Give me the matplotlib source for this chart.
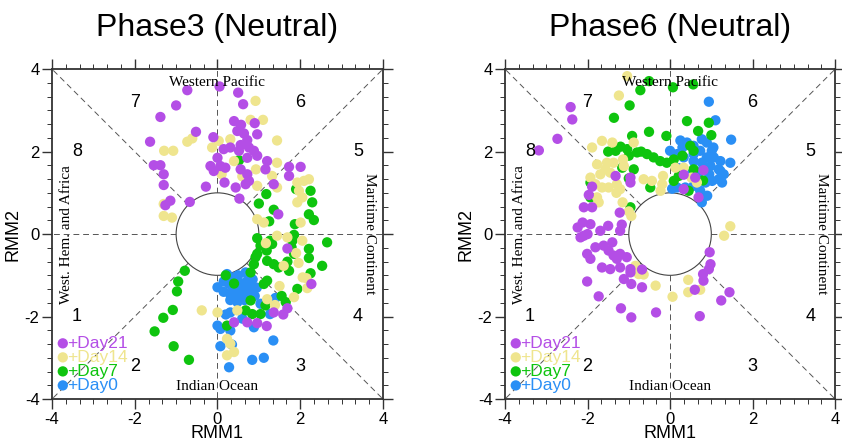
# MJO phase-space composite, Phase3 and Phase6 (neutral)

import numpy as np
import matplotlib.pyplot as plt
from matplotlib.patches import Circle

plt.rcParams['axes.unicode_minus'] = False

# ---- data (RMM1, RMM2) ----
p3_day21 = [(-0.73,3.49),(0.05,3.58),(0.50,3.43),(0.62,3.15),(-1.0,3.12),(-1.38,2.84),(-0.52,2.48),
            (-1.63,2.24),(-0.10,2.35),(0.40,2.74),(0.57,2.65),(0.90,2.69),(0.96,2.42),(0.48,2.50),
            (0.64,2.44),(0.72,2.28),(0.56,2.16),(0.76,2.10),(0.88,2.02),(0.96,1.90),(0.72,1.85),
            (0.52,2.02),(0.31,2.10),(0.15,2.06),(0.0,1.85),(0.07,1.65),(-0.17,1.65),(-0.09,1.53),
            (0.19,1.61),(0.56,1.57),(0.72,1.45),(0.76,1.29),(0.68,1.21),(1.20,1.77),(1.16,1.57),
            (1.36,1.21),(1.73,1.63),(2.01,1.63),(1.73,1.41),(-1.54,1.67),(-1.38,1.67),(-1.30,1.45),
            (-1.30,1.19),(-1.14,0.81),(-1.26,0.70),(-0.67,0.78),(-0.28,1.15),(0.17,1.25),(0.44,1.13),
            (0.53,0.86),(1.47,0.48),(1.69,-0.35),(2.27,-1.21),(1.69,-1.80),(1.59,-1.95),(1.36,-1.90),
            (0.96,-2.16),(1.19,-2.23),(0.72,-2.14),(0.40,-2.14)]
p3_day14 = [(0.92,3.23),(1.10,2.77),(1.44,2.27),(-0.73,2.24),(-0.61,2.32),(-1.29,2.02),(-1.07,2.02),
            (-0.13,2.10),(0.03,2.26),(0.31,2.30),(0.93,1.57),(1.44,1.73),(1.32,1.41),(1.44,1.13),
            (0.96,1.17),(1.93,1.25),(2.09,1.29),(2.21,1.33),(1.97,1.05),(2.05,0.89),(1.93,0.77),
            (2.01,0.28),(0.96,0.36),(1.12,0.28),(1.17,-0.22),(1.44,-0.04),(1.69,-0.08),(2.05,-0.16),
            (1.90,-0.46),(1.96,-0.70),(1.60,-0.77),(2.06,-1.05),(2.15,-1.07),(2.17,-1.31),(1.50,-1.26),
            (1.20,-1.58),(1.39,-1.72),(0.48,-1.85),(0.0,-1.90),(-0.38,-1.85),(0.23,-2.54),(0.31,-2.66),
            (0.23,-2.94),(0.40,-2.86),(-1.30,0.44),(-1.10,0.40),(-1.30,0.73),(1.85,-1.53),(0.40,1.77),
            (0.80,2.77),(0.60,1.40),(0.10,1.45)]
p3_day7 = [(0.52,1.79),(1.18,0.97),(1.0,0.74),(1.36,0.59),(1.25,0.31),(1.87,0.24),(1.90,1.09),(2.25,1.05),
           (2.29,0.77),(2.21,0.48),(2.33,0.34),(0.96,-0.10),(1.32,-0.24),(1.19,-0.40),(1.27,-0.16),
           (1.85,-0.02),(1.81,-0.16),(1.79,-0.32),(1.85,-0.48),(2.21,-0.36),(2.65,-0.20),(2.21,-0.58),
           (2.53,-0.77),(0.92,-0.56),(0.88,-0.73),(0.80,-0.93),(1.20,-0.65),(1.36,-0.73),(1.48,-0.81),
           (1.69,-0.67),(1.73,-0.89),(1.20,-1.13),(0.80,-1.61),(1.16,-1.73),(1.04,-1.94),(0.84,-1.94),
           (0.68,-1.85),(1.93,-1.33),(1.65,-1.65),(0.23,-2.22),(-0.79,-0.89),(-0.95,-1.15),(-0.98,-1.39),
           (-1.08,-1.84),(-1.31,-2.03),(-1.52,-2.36),(-1.06,-2.72),(-0.69,-3.05),(1.04,-0.28),(0.96,-0.48),
           (1.12,-1.21),(0.20,-1.0),(0.40,-1.2),(2.25,-0.95),(1.55,-1.50)]
p3_day0 = [(0.23,-0.97),(0.35,-1.05),(0.50,-1.0),(0.68,-0.93),(0.15,-1.15),(0.0,-1.29),(0.28,-1.21),
           (0.40,-1.25),(0.55,-1.20),(0.70,-1.15),(0.85,-1.10),(0.95,-1.30),(0.80,-1.30),(0.60,-1.35),
           (0.45,-1.40),(0.30,-1.45),(0.15,-1.40),(0.40,-1.55),(0.55,-1.50),(0.75,-1.45),(0.90,-1.50),
           (0.65,-1.60),(0.48,-1.65),(0.31,-1.60),(1.04,-1.69),(1.40,-1.55),(1.27,-1.94),(0.31,-1.90),
           (0.0,-2.22),(0.07,-2.30),(0.31,-2.34),(0.88,-2.26),(0.07,-2.72),(0.35,-2.68),(1.35,-2.58),
           (0.84,-3.05),(1.12,-3.0),(0.28,-3.23),(0.60,-2.05),(0.20,-1.95)]

p6_day21 = [(-2.41,3.08),(-2.37,2.78),(-2.73,2.31),(-3.18,2.03),(-1.32,1.41),(-0.96,1.37),(-0.96,1.25),
            (-1.89,1.15),(-1.97,0.95),(-2.09,0.65),(-1.89,0.65),(-1.22,0.52),(-2.24,0.16),(-2.12,0.28),
            (-2.09,-0.04),(-1.93,0.24),(-2.17,-0.08),(-2.0,0.0),(-1.69,0.08),(-1.17,0.23),(-1.21,0.08),
            (-1.81,-0.32),(-1.61,-0.28),(-1.49,-0.40),(-1.37,-0.52),(-1.21,-0.48),(-1.05,-0.56),
            (-1.29,-0.60),(-2.01,-0.48),(-1.93,-0.60),(-1.65,-0.81),(-1.45,-0.85),(-1.21,-0.81),
            (-0.96,-0.85),(-0.96,-0.93),(-0.68,-0.86),(-2.01,-1.15),(-1.73,-1.51),(-1.12,-1.09),
            (-0.94,-1.21),(-0.68,-1.29),(-1.19,-1.80),(-0.94,-2.02),(-0.34,-1.90),(0.72,-1.99),
            (0.60,-1.35),(0.81,-1.13),(0.80,-0.97),(0.94,-0.85),(0.98,-0.73),(0.96,-0.44),(1.24,-1.61),
            (1.44,-1.41),(0.33,1.44),(0.33,1.09),(0.69,0.89),(0.81,1.55),(0.61,1.37),(-1.40,-0.20),
            (-1.50,0.20)]
p6_day14 = [(-1.04,3.83),(-1.24,3.36),(-1.89,2.10),(-1.65,2.26),(-1.40,2.22),(-0.88,2.22),(-1.77,1.69),
            (-1.53,1.73),(-1.37,1.73),(-1.57,1.57),(-1.45,1.49),(-1.69,1.45),(-1.93,1.37),(-1.81,1.21),
            (-1.65,1.13),(-1.49,1.13),(-1.29,1.21),(-1.21,1.09),(-1.77,0.89),(-1.73,0.77),(-1.15,0.77),
            (-0.94,0.44),(-1.14,1.81),(-1.12,1.65),(-0.64,1.33),(-0.44,1.29),(-0.23,1.05),(-0.19,1.21),
            (-0.17,1.41),(0.13,1.61),(0.33,1.61),(0.52,1.37),(0.65,1.25),(1.31,-0.04),(1.46,0.19),
            (-0.84,-0.77),(-0.76,-0.97),(-0.64,-0.98),(-0.35,-1.25),(0.06,-1.52),(0.44,-1.11),
            (0.44,-1.41),(0.73,-1.35),(-1.30,1.00),(-1.00,0.55)]
p6_day7 = [(-0.72,3.49),(-0.51,3.71),(0.07,3.56),(0.56,3.63),(-0.98,3.12),(-1.36,2.82),(-0.51,2.48),
           (0.41,2.74),(0.94,2.70),(0.68,2.50),(1.00,2.40),(-0.09,2.38),(-0.92,2.38),(-1.20,2.12),
           (-1.32,2.02),(-1.04,2.06),(-0.80,1.98),(-0.56,1.94),(-0.40,1.86),(-0.24,1.77),(-0.08,1.73),
           (0.09,1.81),(-1.00,1.90),(-1.16,1.61),(-0.88,1.57),(-1.93,1.25),(-1.93,0.89),(-0.96,0.65),
           (-0.48,1.13),(0.49,2.14),(0.57,2.02),(0.57,1.57),(0.21,1.41),(0.45,1.05),(0.09,1.29),
           (0.30,1.90),(-0.70,2.00),(-1.50,2.00),(-1.00,1.35),(0.80,1.30)]
p6_day0 = [(0.94,3.21),(1.10,2.76),(1.48,2.29),(1.46,1.73),(0.25,2.27),(0.41,2.22),(0.57,2.14),(0.77,2.30),
           (0.89,2.22),(1.01,2.02),(0.73,2.02),(0.89,1.86),(1.06,1.86),(1.22,1.77),(0.57,1.94),(0.0,2.02),
           (0.17,1.94),(0.33,1.86),(0.57,1.77),(0.77,1.73),(0.98,1.65),(1.18,1.57),(1.30,1.45),(1.18,1.33),
           (1.02,1.29),(0.86,1.25),(0.17,1.13),(0.37,1.13),(0.57,1.17),(0.73,1.05),(0.90,0.93),(0.77,0.77),
           (1.26,1.25),(1.22,1.53),(0.05,1.10),(0.20,1.60),(0.45,1.45),(0.70,1.50),(0.95,1.45),(1.05,2.10),
           (0.30,2.10)]

titles = ['Phase3 (Neutral)', 'Phase6 (Neutral)']
series_labels = ['+Day21', '+Day14', '+Day7', '+Day0']
colors = ['#b44ee6', '#efe58e', '#0ec40e', '#2a8ff5']
phase_nums = ['1', '2', '3', '4', '5', '6', '7', '8']
phase_pos = [(-3.4, -2), (-2, -3.2), (2, -3.2), (3.4, -2), (3.4, 2), (2, 3.2), (-2, 3.2), (-3.4, 2)]

panels = [(p3_day21, p3_day14, p3_day7, p3_day0), (p6_day21, p6_day14, p6_day7, p6_day0)]

fig = plt.figure(figsize=(8.42, 4.41), dpi=100)
axes_pos = [[0.0618, 0.0952, 0.393, 0.748], [0.5998, 0.0952, 0.392, 0.748]]

for k, (pos, title, data) in enumerate(zip(axes_pos, titles, panels)):
    ax = fig.add_axes(pos)
    ax.set_xlim(-4, 4)
    ax.set_ylim(-4, 4)

    # reference lines from the unit circle out to the frame
    c45 = np.cos(np.pi / 4)
    lk = dict(color='#555555', lw=0.7, ls=(0, (6, 4)), zorder=1)
    ax.plot([1, 4], [0, 0], **lk)
    ax.plot([-1, -4], [0, 0], **lk)
    ax.plot([0, 0], [1, 4], **lk)
    ax.plot([0, 0], [-1, -4], **lk)
    for sx in (1, -1):
        for sy in (1, -1):
            ax.plot([sx * c45, sx * 4], [sy * c45, sy * 4], **lk)
    ax.add_patch(Circle((0, 0), 1, facecolor='white', edgecolor='#444444', lw=0.8, zorder=2))

    # points: Day0 first, Day21 on top
    for pts, col in reversed(list(zip(data, colors))):
        arr = np.array(pts)
        ax.scatter(arr[:, 0], arr[:, 1], s=55, color=col, edgecolors='none', zorder=3)

    # phase numbers and region names
    for num, (px, py) in zip(phase_nums, phase_pos):
        ax.text(px, py, num, ha='center', va='center', fontsize=13,
                family='Liberation Sans', zorder=4)
    sk = dict(family='Liberation Serif', fontsize=11, zorder=4)
    ax.text(0, 3.67, 'Western Pacific', ha='center', va='center', **sk)
    ax.text(0, -3.69, 'Indian Ocean', ha='center', va='center', **sk)
    ax.text(-3.66, 0, 'West. Hem. and Africa', ha='center', va='center', rotation=90, **sk)
    ax.text(3.68, 0, 'Maritime Continent', ha='center', va='center', rotation=-90, **sk)

    # legend drawn as text with markers
    for i, (lab, col) in enumerate(zip(series_labels, colors)):
        ly = -2.65 - 0.34 * i
        ax.scatter([-3.74], [ly], s=55, color=col, edgecolors='none', zorder=5)
        ax.text(-3.64, ly, lab, color=col, fontsize=12.5, ha='left', va='center',
                family='Liberation Sans', zorder=5)

    ax.set_xticks([-4, -2, 0, 2, 4])
    ax.set_yticks([-4, -2, 0, 2, 4])
    ax.set_xticks(np.arange(-4, 4.01, 1 / 3), minor=True)
    ax.set_yticks(np.arange(-4, 4.01, 1 / 3), minor=True)
    ax.tick_params(which='both', direction='out', top=True, right=True,
                   labeltop=False, labelright=False, color='#333333')
    ax.tick_params(which='major', length=7, width=1.0, labelsize=12, pad=2)
    ax.tick_params(which='minor', length=3.5, width=0.7)
    for lab in ax.get_xticklabels() + ax.get_yticklabels():
        lab.set_family('Liberation Sans')
    for sp in ax.spines.values():
        sp.set_linewidth(1.3)
        sp.set_color('#333333')
    ax.set_xlabel('RMM1', fontsize=13, family='Liberation Sans', labelpad=-1)
    ax.set_ylabel('RMM2', fontsize=13, family='Liberation Sans', labelpad=2)

    fig.text(pos[0] + pos[2] / 2, 0.937, title, ha='center', va='center',
             fontsize=23, family='Liberation Sans')

fig.savefig('out.png', dpi=100)
